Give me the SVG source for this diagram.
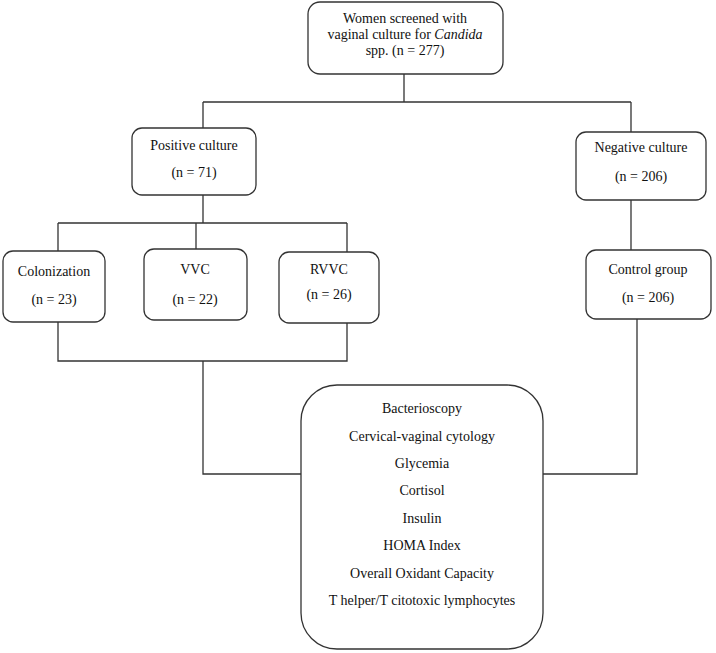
<svg xmlns="http://www.w3.org/2000/svg" width="716" height="653" viewBox="0 0 716 653">
<style>
.box{fill:#fff;stroke:#333;stroke-width:1.3}
.ln{fill:none;stroke:#333;stroke-width:1.3}
.t text{font-size:14px;fill:#111;text-anchor:middle}
</style>
<rect width="716" height="653" fill="#fff"/>
<g id="connectors">
<path class="ln" d="M404 74V102M203 102H631M203 102V128M631 102V132"/>
<path class="ln" d="M203 195V223M58 223H347M58 223V251M196 223V249M347 223V252"/>
<path class="ln" d="M631 200V250"/>
<path class="ln" d="M58 322V361H347V323M203 361V474H301"/>
<path class="ln" d="M637 319V474H543"/>
</g>
<g class="t" font-family="Liberation Serif, Times New Roman, DejaVu Serif, serif">
<g id="n-screened">
<rect class="box" x="308" y="2" width="195" height="72" rx="12"/>
<text x="405" y="23">Women screened with</text>
<text x="405" y="39">vaginal culture for <tspan font-style="italic">Candida</tspan></text>
<text x="405" y="55">spp. (n = 277)</text>
</g>
<g id="n-positive">
<rect class="box" x="132" y="128" width="124" height="67" rx="10"/>
<text x="194" y="150">Positive culture</text>
<text x="194" y="177">(n = 71)</text>
</g>
<g id="n-negative">
<rect class="box" x="576" y="132" width="130" height="68" rx="10"/>
<text x="641" y="152">Negative culture</text>
<text x="641" y="181">(n = 206)</text>
</g>
<g id="n-colonization">
<rect class="box" x="3" y="251" width="102" height="71" rx="10"/>
<text x="54" y="276">Colonization</text>
<text x="54" y="304">(n = 23)</text>
</g>
<g id="n-vvc">
<rect class="box" x="144" y="249" width="103" height="71" rx="10"/>
<text x="195" y="274">VVC</text>
<text x="195" y="304">(n = 22)</text>
</g>
<g id="n-rvvc">
<rect class="box" x="279" y="252" width="100" height="71" rx="10"/>
<text x="329" y="274">RVVC</text>
<text x="329" y="299">(n = 26)</text>
</g>
<g id="n-control">
<rect class="box" x="586" y="250" width="125" height="69" rx="10"/>
<text x="648" y="274">Control group</text>
<text x="648" y="302">(n = 206)</text>
</g>
<g id="n-measures">
<rect class="box" x="301" y="385" width="242" height="264" rx="36"/>
<text x="422" y="413">Bacterioscopy</text>
<text x="422" y="441">Cervical-vaginal cytology</text>
<text x="422" y="468">Glycemia</text>
<text x="422" y="495">Cortisol</text>
<text x="422" y="523">Insulin</text>
<text x="422" y="550">HOMA Index</text>
<text x="422" y="578">Overall Oxidant Capacity</text>
<text x="422" y="605">T helper/T citotoxic lymphocytes</text>
</g>
</g>
</svg>
